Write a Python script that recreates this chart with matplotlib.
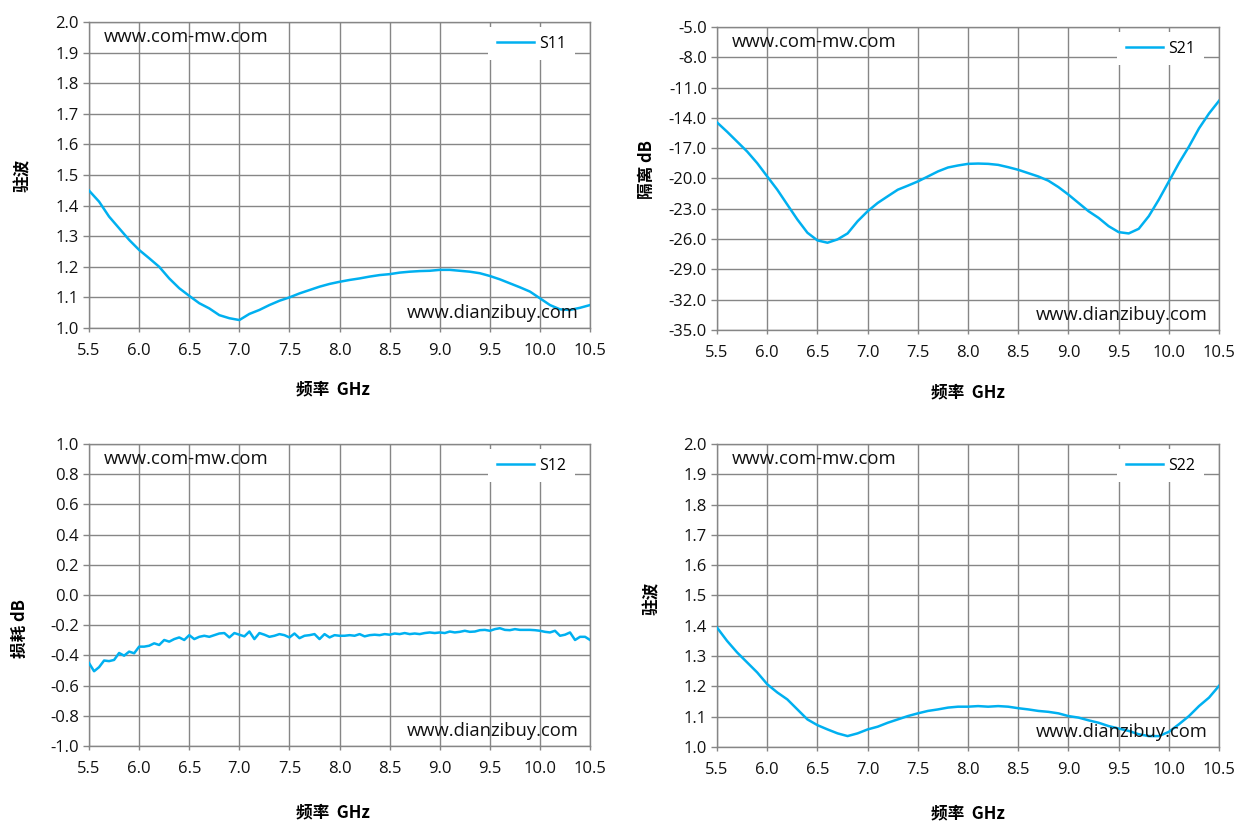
import numpy as np
import matplotlib
matplotlib.use("Agg")
from matplotlib import pyplot as plt
from matplotlib.ticker import FixedLocator, FormatStrFormatter

plt.rcParams["font.family"] = ["Open Sans", "DejaVu Sans"]
plt.rcParams["axes.unicode_minus"] = False

# frequency grid (GHz) the traces were read at
freq = np.linspace(5.5, 10.5, 51)
freq_s12 = np.linspace(5.5, 10.5, 101)

s11 = [1.449, 1.413, 1.364, 1.326, 1.288, 1.255, 1.228, 1.200, 1.162, 1.130,
       1.105, 1.081, 1.064, 1.042, 1.032, 1.026, 1.046, 1.059, 1.075, 1.089,
       1.100, 1.113, 1.124, 1.135, 1.144, 1.151, 1.157, 1.162, 1.168, 1.173,
       1.176, 1.181, 1.184, 1.186, 1.187, 1.190, 1.190, 1.187, 1.184, 1.179,
       1.170, 1.159, 1.146, 1.133, 1.119, 1.097, 1.075, 1.061, 1.059, 1.066,
       1.075]

s21 = [-14.45, -15.37, -16.35, -17.33, -18.48, -19.80, -21.11, -22.59, -24.06, -25.37,
       -26.13, -26.36, -26.03, -25.44, -24.23, -23.24, -22.42, -21.76, -21.11, -20.71,
       -20.29, -19.80, -19.30, -18.91, -18.71, -18.55, -18.52, -18.55, -18.65, -18.88,
       -19.14, -19.47, -19.80, -20.22, -20.85, -21.60, -22.42, -23.24, -23.90, -24.72,
       -25.31, -25.44, -24.98, -23.73, -22.09, -20.29, -18.48, -16.84, -15.04, -13.56,
       -12.30]

s12 = [-0.451, -0.505, -0.478, -0.434, -0.438, -0.430, -0.384, -0.402, -0.375, -0.386,
       -0.342, -0.342, -0.336, -0.320, -0.331, -0.298, -0.309, -0.292, -0.281, -0.298,
       -0.266, -0.292, -0.277, -0.270, -0.277, -0.266, -0.255, -0.252, -0.281, -0.252,
       -0.263, -0.274, -0.242, -0.292, -0.252, -0.263, -0.277, -0.270, -0.259, -0.266,
       -0.281, -0.255, -0.286, -0.270, -0.266, -0.259, -0.292, -0.259, -0.281, -0.266,
       -0.270, -0.270, -0.266, -0.270, -0.259, -0.274, -0.266, -0.263, -0.266, -0.259,
       -0.263, -0.255, -0.259, -0.252, -0.259, -0.255, -0.259, -0.252, -0.248, -0.252,
       -0.248, -0.252, -0.242, -0.248, -0.244, -0.237, -0.244, -0.242, -0.233, -0.231,
       -0.237, -0.226, -0.220, -0.231, -0.233, -0.226, -0.231, -0.231, -0.231, -0.233,
       -0.237, -0.244, -0.248, -0.237, -0.270, -0.263, -0.248, -0.298, -0.277, -0.277,
       -0.298]

s22 = [1.394, 1.350, 1.312, 1.279, 1.246, 1.207, 1.180, 1.157, 1.124, 1.091,
       1.072, 1.058, 1.045, 1.036, 1.045, 1.058, 1.067, 1.080, 1.091, 1.102,
       1.111, 1.119, 1.124, 1.130, 1.133, 1.133, 1.135, 1.133, 1.135, 1.133,
       1.128, 1.124, 1.119, 1.116, 1.111, 1.102, 1.097, 1.088, 1.080, 1.069,
       1.061, 1.053, 1.042, 1.036, 1.036, 1.050, 1.075, 1.102, 1.135, 1.163,
       1.202]

xlabel = "频率  GHz"
watermark_top = "www.com-mw.com"
watermark_bottom = "www.dianzibuy.com"

LINE = "#00b0f0"
GRID = "#868686"
CJK = ["Noto Sans CJK SC", "DejaVu Sans"]

fig = plt.figure(figsize=(12.56, 8.31), dpi=100)

panels = [
    # rect, x, y, name, ylim, ystep, ylabel, ylabel pos, xlabel pos
    ([0.0709, 0.6053, 0.3989, 0.3682], freq, s11, "S11", (1.0, 2.0), 0.1, "驻波",
     (-0.114, 0.5), (0.487, -0.172)),
    ([0.5709, 0.6029, 0.3997, 0.3646], freq, s21, "S21", (-35.0, -5.0), 3.0, "隔离 dB",
     (-0.121, 0.528), (0.5, -0.178)),
    ([0.0709, 0.1023, 0.3989, 0.3634], freq_s12, s12, "S12", (-1.0, 1.0), 0.2, "损耗 dB",
     (-0.12, 0.39), (0.487, -0.19)),
    ([0.5709, 0.1011, 0.3997, 0.3646], freq, s22, "S22", (1.0, 2.0), 0.1, "驻波",
     (-0.111, 0.49), (0.5, -0.188)),
]

xticks = np.linspace(5.5, 10.5, 11)

for rect, x, y, name, ylim, ystep, ylab, ylab_pos, xlab_pos in panels:
    ax = fig.add_axes(rect)
    ax.plot(x, y, color=LINE, lw=1.8, label=name, zorder=3)
    ax.set_xlim(5.5, 10.5)
    ax.set_ylim(*ylim)
    nsteps = int(round((ylim[1] - ylim[0]) / ystep))
    ax.xaxis.set_major_locator(FixedLocator(xticks))
    ax.yaxis.set_major_locator(FixedLocator(np.linspace(ylim[0], ylim[1], nsteps + 1)))
    ax.xaxis.set_major_formatter(FormatStrFormatter("%.1f"))
    ax.yaxis.set_major_formatter(FormatStrFormatter("%.1f"))
    ax.grid(True, color=GRID, lw=1.0)
    ax.set_axisbelow(True)
    for sp in ax.spines.values():
        sp.set_color(GRID)
        sp.set_linewidth(1.0)
    ax.tick_params(axis="y", length=4.3, width=1.0, color=GRID, pad=3.0,
                   labelsize=12, labelcolor="#111111")
    ax.tick_params(axis="x", length=3, width=1.0, color=GRID, pad=8,
                   labelsize=12, labelcolor="#111111")

    ax.set_ylabel(ylab, family=CJK, fontweight="bold", fontsize=12)
    ax.yaxis.set_label_coords(*ylab_pos)
    ax.set_xlabel(xlabel, family=CJK, fontweight="bold", fontsize=12)
    ax.xaxis.set_label_coords(*xlab_pos)

    ax.text(0.03, 0.95, watermark_top, transform=ax.transAxes, fontsize=13.3,
            ha="left", va="center", color="#111111")
    ax.text(0.978, 0.048, watermark_bottom, transform=ax.transAxes, fontsize=13.2,
            ha="right", va="center", color="#111111", zorder=4)

    leg = ax.legend(loc="upper right", bbox_to_anchor=(0.97, 0.984),
                    borderaxespad=0, frameon=True, fancybox=False,
                    handlelength=2.35, handletextpad=0.3, borderpad=0.55,
                    fontsize=11.5)
    leg.get_frame().set_facecolor("white")
    leg.get_frame().set_edgecolor("none")
    leg.get_frame().set_alpha(1.0)

fig.savefig("out.png", dpi=100, facecolor="white")
